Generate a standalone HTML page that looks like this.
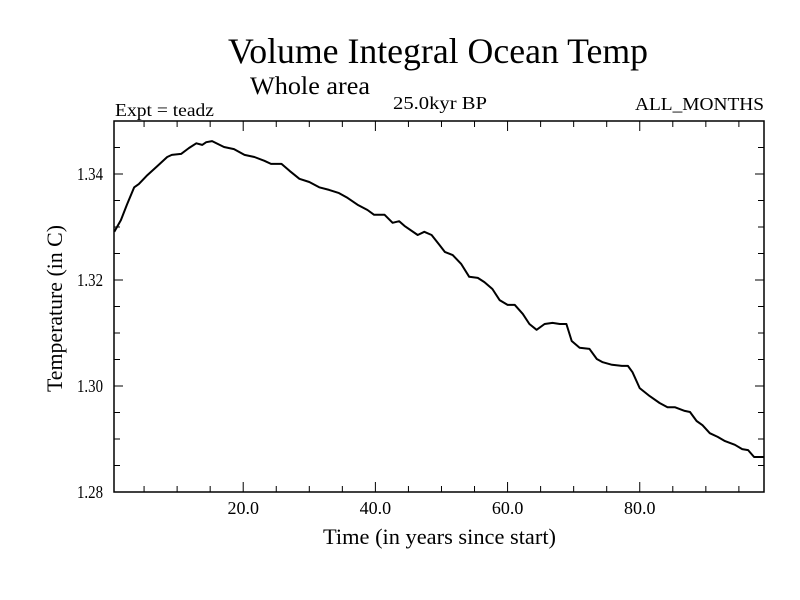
<!DOCTYPE html>
<html><head><meta charset="utf-8"><style>
html,body{margin:0;padding:0;background:#fff;}
svg{display:block;font-family:"Liberation Serif",serif;}
</style></head><body>
<svg id="chart" width="800" height="600" viewBox="0 0 800 600">
<text x="228" y="63" font-size="36" textLength="420" lengthAdjust="spacingAndGlyphs">Volume Integral Ocean Temp</text>
<text x="250" y="94" font-size="25" textLength="120" lengthAdjust="spacingAndGlyphs">Whole area</text>
<text x="115" y="116" font-size="18" textLength="99" lengthAdjust="spacingAndGlyphs">Expt = teadz</text>
<text x="393" y="109" font-size="18" textLength="94" lengthAdjust="spacingAndGlyphs">25.0kyr BP</text>
<text x="635" y="110" font-size="18" textLength="129" lengthAdjust="spacingAndGlyphs">ALL_MONTHS</text>
<text x="323" y="544" font-size="22" textLength="233" lengthAdjust="spacingAndGlyphs">Time (in years since start)</text>
<text transform="translate(62,392) rotate(-90)" x="0" y="0" font-size="22" textLength="167" lengthAdjust="spacingAndGlyphs">Temperature (in C)</text>
<g id="axes"></g>
<g id="series"></g>
</svg>
<script>
const years = [0.5,1.5,2.4,3.5,4.2,5.5,7.0,8.5,9.2,10.6,11.8,12.9,13.8,14.4,15.3,17.1,18.6,20.2,21.7,23.2,24.2,25.8,27.0,28.5,30.0,31.5,33.0,34.5,35.8,37.3,38.8,39.8,41.4,42.6,43.6,44.4,46.4,47.4,48.5,49.7,50.5,51.7,53.0,54.2,55.5,56.5,57.7,58.8,60.0,61.1,62.3,63.3,64.4,65.6,66.8,67.9,68.9,69.7,70.9,72.4,73.5,74.4,75.8,77.3,78.2,78.9,80.0,81.5,83.0,84.2,85.3,86.8,87.6,88.6,89.5,90.6,91.8,92.9,94.4,95.5,96.4,97.3,98.8];
const temps = [1.3291,1.3313,1.3342,1.3375,1.3381,1.3398,1.3415,1.3432,1.3436,1.3438,1.3449,1.3458,1.3455,1.3460,1.3462,1.3451,1.3447,1.3436,1.3432,1.3425,1.3419,1.3419,1.3406,1.3391,1.3385,1.3375,1.3370,1.3364,1.3355,1.3342,1.3332,1.3323,1.3323,1.3308,1.3311,1.3302,1.3285,1.3291,1.3285,1.3266,1.3253,1.3247,1.3230,1.3206,1.3204,1.3196,1.3183,1.3162,1.3153,1.3153,1.3136,1.3117,1.3106,1.3117,1.3119,1.3117,1.3117,1.3085,1.3072,1.3070,1.3051,1.3045,1.3040,1.3038,1.3038,1.3026,1.2996,1.2981,1.2968,1.2960,1.2960,1.2953,1.2951,1.2934,1.2926,1.2911,1.2904,1.2896,1.2889,1.2881,1.2879,1.2866,1.2866];
const yTicks = [1.28,1.30,1.32,1.34];
const yTickLabels = ["1.28","1.30","1.32","1.34"];
const xTicks = [20,40,60,80];
const xTickLabels = ["20.0","40.0","60.0","80.0"];

const NS="http://www.w3.org/2000/svg";
const L=114,R=764,T=121,B=492;
const X0=0.45,X1=98.8,Y0=1.28,Y1=1.35;
function sx(v){return L+(v-X0)/(X1-X0)*(R-L);}
function sy(v){return B-(v-Y0)/(Y1-Y0)*(B-T);}
function mk(tag,attrs,parent){const e=document.createElementNS(NS,tag);for(const k in attrs)e.setAttribute(k,attrs[k]);parent.appendChild(e);return e;}
const axes=document.getElementById('axes');
const frame=mk('rect',{x:L,y:T,width:R-L,height:B-T,fill:'none',stroke:'#000','stroke-width':1.5},axes);


for(let v=5;v<X1;v+=5){
  const major=xTicks.includes(v);const len=major?10:6;const x=sx(v);
  const t1=mk('line',{x1:x,x2:x,y1:B,y2:B-len,stroke:'#000','stroke-width':1},axes);
  
  
  const t2=mk('line',{x1:x,x2:x,y1:T,y2:T+len,stroke:'#000','stroke-width':1},axes);
  
  
}
for(let i=0;i<=14;i++){
  const v=Y0+i*0.005;const major=i%4===0;const len=major?9:6;const y=sy(v);
  const t1=mk('line',{x1:L,x2:L+len,y1:y,y2:y,stroke:'#000','stroke-width':1},axes);
  
  
  const t2=mk('line',{x1:R,x2:R-len,y1:y,y2:y,stroke:'#000','stroke-width':1},axes);
  
  
}
yTicks.forEach((v,i)=>{
  const t=mk('text',{x:103,y:sy(v)+6,'font-size':18,'text-anchor':'end',textLength:26,lengthAdjust:'spacingAndGlyphs'},axes);
  t.textContent=yTickLabels[i];
  
  
});
xTicks.forEach((v,i)=>{
  const t=mk('text',{x:sx(v),y:514,'font-size':18,'text-anchor':'middle'},axes);
  t.textContent=xTickLabels[i];
  
  
});
const pts=years.map((y,i)=>sx(y).toFixed(1)+','+sy(temps[i]).toFixed(1)).join(' ');
const line=mk('polyline',{points:pts,fill:'none',stroke:'#000','stroke-width':2,'stroke-linejoin':'round'},document.getElementById('series'));


</script>
</body></html>
